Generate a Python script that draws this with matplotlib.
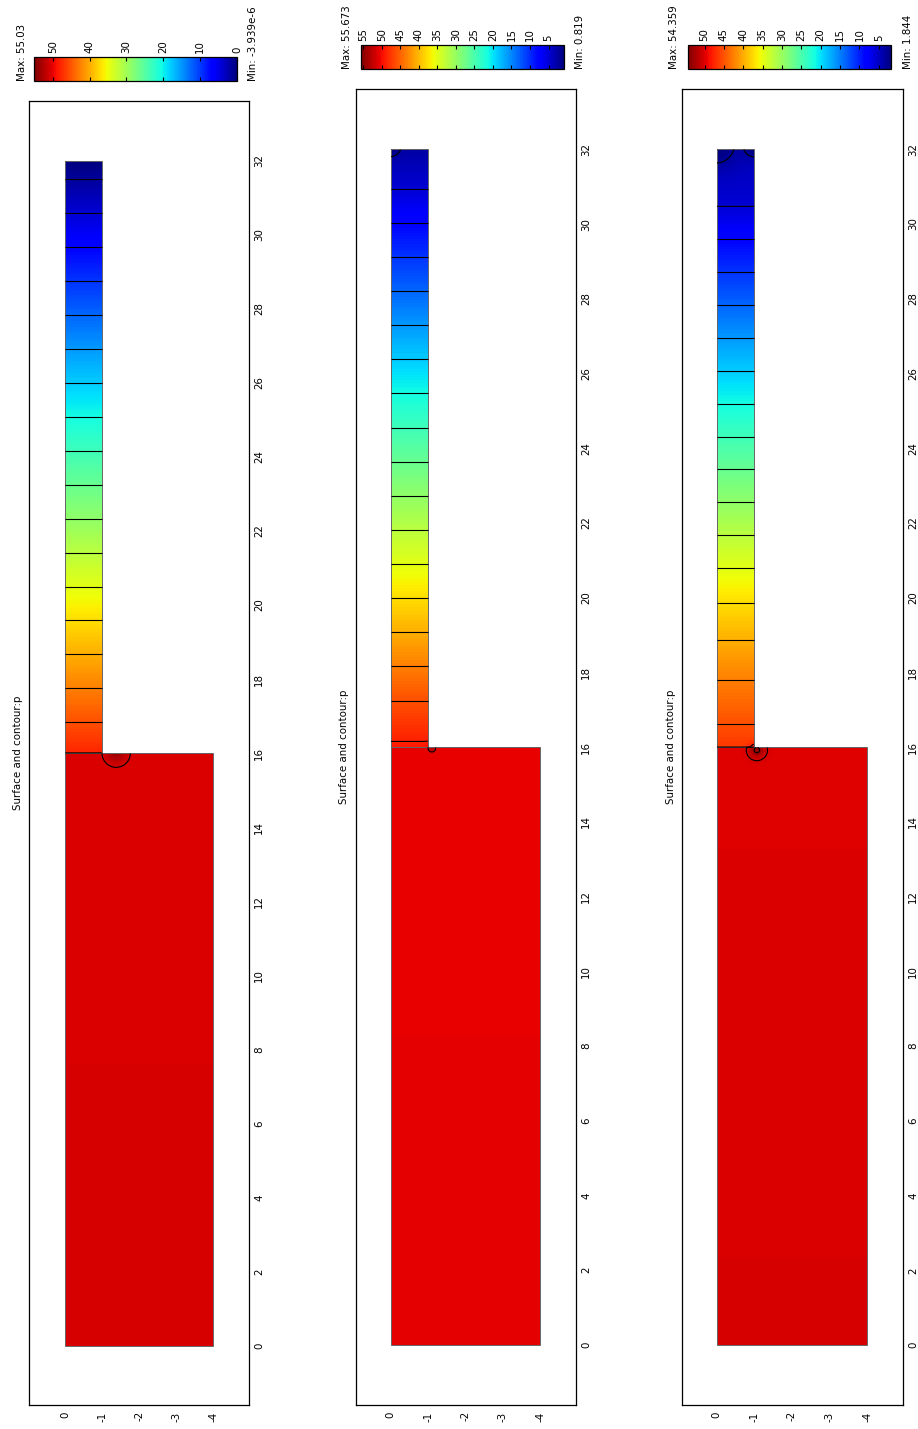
import numpy as np
import matplotlib
matplotlib.use('Agg')
import matplotlib.pyplot as plt
from matplotlib.patches import Rectangle

W_PX, H_PX = 918, 1429

# geometry of the two subdomains: (x0, x1, y0, y1)
block = (0.0, 16.0, -4.0, 0.0)
strip = (16.0, 32.0, -1.0, 0.0)

# colour range of each plot
p_min = [-3.939e-6, 0.819, 1.844]
p_max = [55.03, 55.673, 54.359]
min_labels = ['Min: -3.939e-6', 'Min: 0.819', 'Min: 1.844']
max_labels = ['Max: 55.03', 'Max: 55.673', 'Max: 54.359']
cbar_ticks = [[0, 10, 20, 30, 40, 50],
              [5, 10, 15, 20, 25, 30, 35, 40, 45, 50, 55],
              [5, 10, 15, 20, 25, 30, 35, 40, 45, 50]]

# pressure along the strip (x, p)
strip_x = [[16.0, 16.83, 31.51, 32.0],
           [16.0, 17.25, 30.95, 32.0],
           [16.0, 16.62, 17.79, 18.86, 19.85, 20.79, 30.47, 32.0]]
strip_p = [[47.9, 45.40, 1.38, 0.0],
           [49.2, 46.07, 4.93, 2.6],
           [46.5, 45.17, 42.55, 39.92, 37.30, 34.67, 5.78, 4.4]]

# pressure in the block
block_x = [[0.0, 16.0], [0.0, 16.0], [0.0, 16.0]]
block_p = [[50.85, 50.6], [50.9, 50.6], [50.3, 50.0]]

# local peaks / dips near corners: x, y, amplitude, width
bump_x = [[16.0], [15.97, 32.0], [15.92, 32.0, 32.0]]
bump_y = [[-1.38], [-1.1, 0.0], [-1.07, 0.0, -1.0]]
bump_a = [[2.8], [2.5, -1.8], [3.5, -2.56, -2.4]]
bump_w = [[0.255], [0.102, 0.22], [0.193, 0.53, 0.271]]

# layout in pixels
ax_box = [(29.3, 248.7, 101.0, 1405.0), (356.0, 575.7, 89.3, 1405.0), (682.3, 902.7, 89.3, 1405.0)]
cb_box = [(34.3, 237.0, 57.3, 80.7), (360.7, 564.0, 45.0, 69.0), (687.7, 891.0, 45.0, 69.0)]
h_lim = [(0.96, -4.95), (0.93, -4.95), (0.91, -4.94)]
v_lim = [(-1.60, 33.61), (-1.61, 33.61), (-1.60, 33.60)]
title_x = [18.0, 344.0, 671.0]
max_x = [21.7, 346.7, 674.0]
min_x = [253.0, 580.0, 908.0]

FS = 7.4


def px_axes(fig, x0, x1, y0, y1):
    return fig.add_axes([x0 / W_PX, 1 - y1 / H_PX, (x1 - x0) / W_PX, (y1 - y0) / H_PX])


fig = plt.figure(figsize=(W_PX / 100, H_PX / 100), dpi=100)

xe = np.linspace(0, 32, 1601)
ye = np.linspace(-4, 0, 201)
xc = 0.5 * (xe[1:] + xe[:-1])
yc = 0.5 * (ye[1:] + ye[:-1])
Xo, Yo = np.meshgrid(xc, yc, indexing='ij')

for k in range(3):
    ax = px_axes(fig, *ax_box[k])

    P = np.where(Xo <= block[1],
                 np.interp(Xo, block_x[k], block_p[k]),
                 np.interp(Xo, strip_x[k], strip_p[k]))
    for bx, by, ba, bw in zip(bump_x[k], bump_y[k], bump_a[k], bump_w[k]):
        P = P + ba * np.exp(-((Xo - bx) ** 2 + (Yo - by) ** 2) / bw ** 2)
    inside = (Xo <= block[1]) | ((Xo > strip[0]) & (Yo >= strip[2]))
    P = np.ma.masked_where(~inside, P)

    mesh = ax.pcolormesh(ye, xe, P, cmap='jet', vmin=p_min[k], vmax=p_max[k],
                         shading='flat', antialiased=False, rasterized=True)
    levels = p_min[k] + (np.arange(20) + 0.5) * (p_max[k] - p_min[k]) / 20
    ax.contour(yc, xc, P, levels=levels, colors='k', linewidths=0.8)

    for g in (block, strip):
        ax.add_patch(Rectangle((g[2], g[0]), g[3] - g[2], g[1] - g[0],
                               fill=False, edgecolor='0.4', linewidth=0.7))

    ax.set_xlim(*h_lim[k])
    ax.set_ylim(*v_lim[k])
    ax.set_xticks([0, -1, -2, -3, -4])
    ax.set_xticklabels(['0', '-1', '-2', '-3', '-4'])
    ax.set_yticks(range(0, 33, 2))
    ax.yaxis.tick_right()
    ax.tick_params(axis='x', length=0, pad=4.5, labelsize=FS, labelrotation=90)
    ax.tick_params(axis='y', length=0, pad=4, labelsize=FS, labelrotation=90)
    for lab in ax.get_yticklabels():
        lab.set_va('center')
    for s in ax.spines.values():
        s.set_linewidth(0.9)

    fig.text(title_x[k] / W_PX, 1 - (ax_box[k][2] + ax_box[k][3]) / 2 / H_PX,
             'Surface and contour:p', rotation=90, ha='center', va='center', fontsize=FS)

    # colour bar
    cax = px_axes(fig, *cb_box[k])
    cb = fig.colorbar(mesh, cax=cax, orientation='horizontal')
    cb.set_ticks(cbar_ticks[k])
    cax.invert_xaxis()
    cax.tick_params(axis='x', direction='in', top=True, bottom=True, labeltop=True,
                    labelbottom=False, length=3, width=0.8, pad=3,
                    labelsize=FS, labelrotation=90)
    cb.outline.set_linewidth(0.9)

    fig.text(max_x[k] / W_PX, 1 - cb_box[k][3] / H_PX, max_labels[k],
             rotation=90, ha='center', va='bottom', fontsize=FS)
    fig.text(min_x[k] / W_PX, 1 - cb_box[k][3] / H_PX, min_labels[k],
             rotation=90, ha='center', va='bottom', fontsize=FS)

fig.savefig('out.png', dpi=100)
